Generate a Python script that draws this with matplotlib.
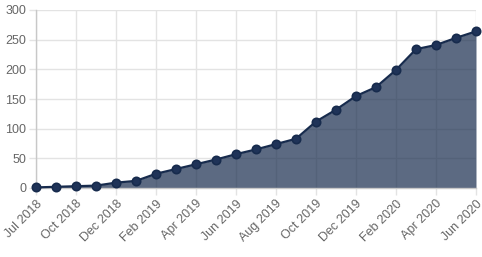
import matplotlib
matplotlib.use("Agg")
import matplotlib.pyplot as plt
import numpy as np

plt.rcParams['font.family'] = ['Liberation Sans', 'DejaVu Sans']

values = [1, 2, 3, 4, 9, 12, 24, 32, 40, 48, 57, 65, 74, 83, 112, 132, 155, 170, 199, 234, 241, 253, 264]
tick_labels = ["Jul 2018", "Oct 2018", "Dec 2018", "Feb 2019", "Apr 2019", "Jun 2019",
               "Aug 2019", "Oct 2019", "Dec 2019", "Feb 2020", "Apr 2020", "Jun 2020"]
y_ticks = [0, 50, 100, 150, 200, 250, 300]

x = np.arange(len(values))
fig = plt.figure(figsize=(4.82, 2.57), dpi=100)
ax = fig.add_axes([36/482, 1-188/257, 440/482, 178/257])

base = '#172b4d'
ax.fill_between(x, 0, values, color=base, alpha=0.7, linewidth=0, zorder=2)
ax.plot(x, values, color=base, linewidth=1.6, marker='o', markersize=6,
        markerfacecolor='#1f3358', markeredgecolor='#172b4d', markeredgewidth=1.2,
        clip_on=False, zorder=3)

ax.set_xlim(0, len(values) - 1)
ax.set_ylim(0, 300)
ax.set_xticks(x[::2])
ax.set_xticklabels(tick_labels, rotation=45, ha='right', rotation_mode='anchor')
ax.set_yticks(y_ticks)

ax.grid(True, color='#e3e3e3', linewidth=1, zorder=1)
ax.set_axisbelow(True)
for s in ['top', 'right']:
    ax.spines[s].set_visible(False)
for s in ['left', 'bottom']:
    ax.spines[s].set_color('#c8c8c8')
    ax.spines[s].set_linewidth(1)
ax.tick_params(axis='both', colors='#e3e3e3', labelcolor='#666666', labelsize=9,
               length=5, width=1, pad=2)

fig.savefig('out.png', dpi=100)
